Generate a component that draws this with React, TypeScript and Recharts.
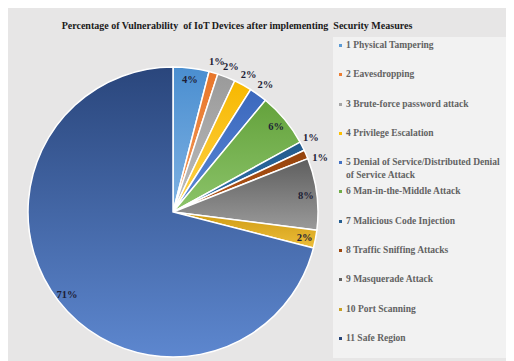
import { PieChart, Pie, Cell, Legend } from "recharts";

const CATEGORIES = [
  "1 Physical Tampering",
  "2 Eavesdropping",
  "3 Brute-force password attack",
  "4 Privilege Escalation",
  "5 Denial of Service/Distributed Denial of Service Attack",
  "6 Man-in-the-Middle Attack",
  "7 Malicious Code Injection",
  "8 Traffic Sniffing Attacks",
  "9 Masquerade Attack",
  "10 Port Scanning",
  "11 Safe Region",
];

const VALUES = [4, 1, 2, 2, 2, 6, 1, 1, 8, 2, 71];

const TITLE =
  "Percentage of Vulnerability  of IoT Devices after implementing  Security Measures";

// [dark, light] for each slice gradient
const COLORS: [string, string][] = [
  ["#4a8ed0", "#7fb2e3"],
  ["#e8762a", "#f29a5c"],
  ["#9a9a9a", "#bdbdbd"],
  ["#f7b800", "#ffd34d"],
  ["#3b68bd", "#5b88d6"],
  ["#64a23c", "#8cc46a"],
  ["#225a8c", "#3274ad"],
  ["#94430c", "#b8581a"],
  ["#5e5e5e", "#9a9a9a"],
  ["#cf9b12", "#ecbd3a"],
  ["#2a467c", "#5d87cf"],
];

const MARKERS = [
  "#5b9bd5", "#ed7d31", "#a5a5a5", "#ffc000", "#4472c4", "#70ad47",
  "#255e91", "#9e480e", "#636363", "#c9a227", "#264478",
];

const data = CATEGORIES.map((name, i) => ({ name, value: VALUES[i] }));

const RAD = Math.PI / 180;
const INSIDE = new Set([0, 5, 8, 9, 10]);
// spread the two crowded 1% labels apart a little (degrees)
const NUDGE: Record<number, number> = { 6: 1.5, 7: -3 };

const renderLabel = (props: any) => {
  const { cx, cy, midAngle, outerRadius, value, index } = props;
  const r = INSIDE.has(index) ? outerRadius - 11 : outerRadius + 12;
  const a = midAngle + (NUDGE[index] || 0);
  const x = cx + r * Math.cos(-a * RAD);
  const y = cy + r * Math.sin(-a * RAD);
  return (
    <text
      x={x}
      y={y}
      textAnchor="middle"
      dominantBaseline="central"
      fontFamily="'Liberation Serif', 'Times New Roman', serif"
      fontWeight="bold"
      fontSize={10.5}
      fill="#1e1e36"
    >
      {`${value}%`}
    </text>
  );
};

const renderLegend = () => (
  <div
    style={{
      background: "#f2f2f2",
      width: 181,
      height: 321,
      boxSizing: "border-box",
      paddingTop: 2,
      fontFamily: "'Liberation Serif', 'Times New Roman', serif",
      fontWeight: "bold",
      fontSize: 9.5,
      color: "#626262",
    }}
  >
    {CATEGORIES.map((c, i) => (
      <div
        key={c}
        style={{ height: 29.3, display: "flex", alignItems: "flex-start", lineHeight: "13px" }}
      >
        <span
          style={{
            display: "inline-block",
            width: 3,
            height: 3,
            background: MARKERS[i],
            margin: "5px 4px 0 6px",
            flexShrink: 0,
          }}
        />
        <span style={{ width: 160 }}>{c}</span>
      </div>
    ))}
  </div>
);

export default function App() {
  return (
    <div style={{ width: 506, height: 353, background: "#e7e6e6", position: "relative" }}>
      <PieChart width={506} height={353}>
        <defs>
          {COLORS.map(([a, b], i) => (
            <linearGradient key={i} id={`g${i}`} x1="0" y1="0" x2="0" y2="1">
              <stop offset="0%" stopColor={a} />
              <stop offset="100%" stopColor={b} />
            </linearGradient>
          ))}
        </defs>
        <text
          x={229}
          y={17}
          textAnchor="middle"
          dominantBaseline="central"
          fontFamily="'Liberation Serif', 'Times New Roman', serif"
          fontWeight="bold"
          fontSize={10}
          fill="#1a1a1a"
          style={{ whiteSpace: "pre" }}
        >
          {TITLE}
        </text>
        <Pie
          data={data}
          dataKey="value"
          cx={160}
          cy={199}
          outerRadius={145}
          startAngle={90}
          endAngle={-270}
          stroke="#ffffff"
          strokeWidth={1.5}
          label={renderLabel}
          labelLine={false}
          isAnimationActive={false}
        >
          {data.map((_d, i) => (
            <Cell key={`cell-${i}`} fill={`url(#g${i})`} />
          ))}
        </Pie>
        <Legend
          content={renderLegend}
          layout="vertical"
          align="right"
          verticalAlign="top"
          wrapperStyle={{ left: 325, top: 29, width: 181, height: 321 }}
        />
      </PieChart>
    </div>
  );
}
